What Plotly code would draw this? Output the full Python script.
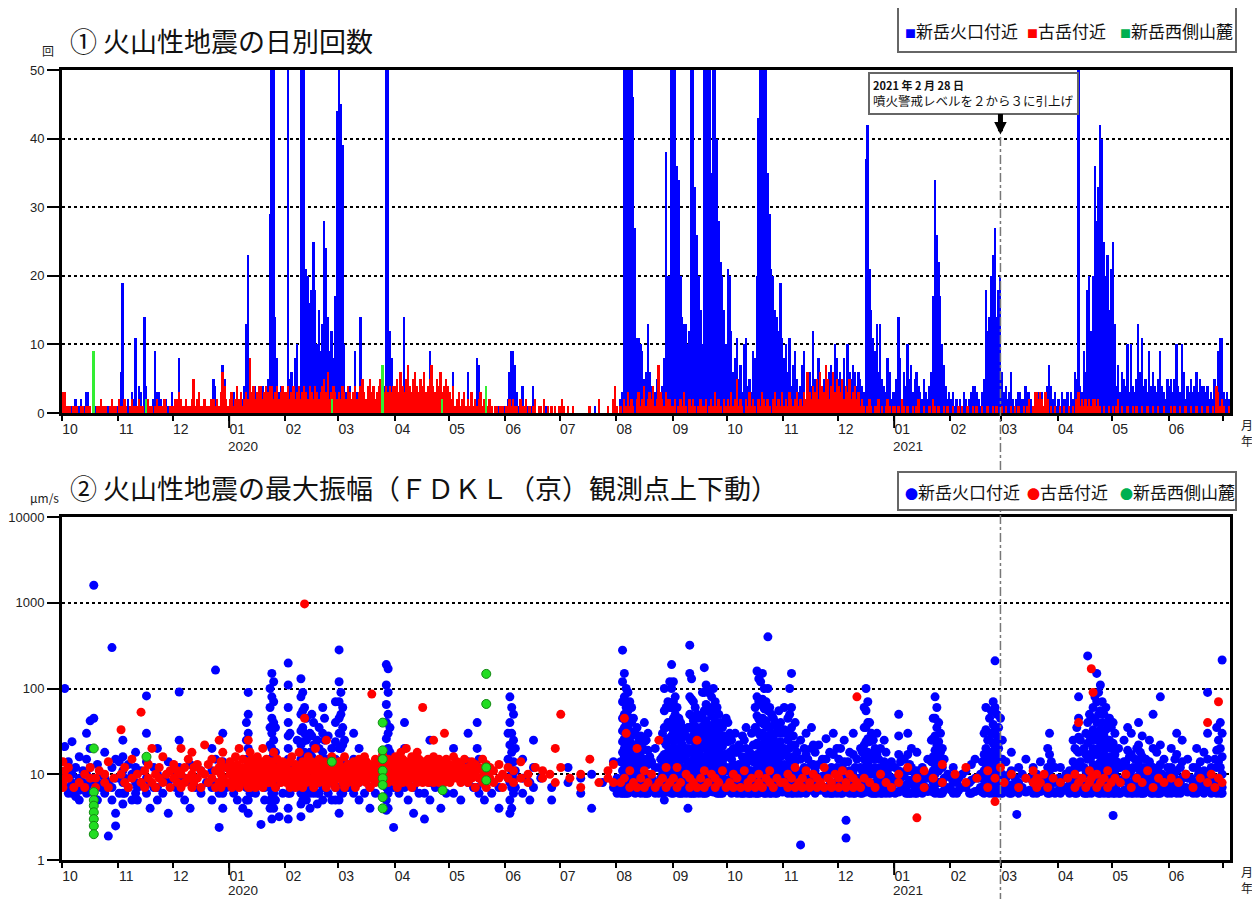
import plotly.graph_objects as go
from datetime import datetime, timedelta

# ---------------- months / ticks ----------------
MONTHS = [(2019, 10), (2019, 11), (2019, 12),
          (2020, 1), (2020, 2), (2020, 3), (2020, 4), (2020, 5), (2020, 6),
          (2020, 7), (2020, 8), (2020, 9), (2020, 10), (2020, 11), (2020, 12),
          (2021, 1), (2021, 2), (2021, 3), (2021, 4), (2021, 5), (2021, 6), (2021, 7)]
TICK_LABELS = ["10", "11", "12", "01", "02", "03", "04", "05", "06", "07", "08", "09",
               "10", "11", "12", "01", "02", "03", "04", "05", "06", ""]
YEAR_LABELS = ["2020", "2021"]

# ---------------- top: daily counts ----------------
blue_2019_10 = [0,1,1,1,0,1,1,2,1,1,2,1,1,3,3,1,0,1,1,1,1,0,1,1,0,1,1,1,0,0,1]
blue_2019_11 = [1,6,19,2,1,2,1,3,2,11,1,4,3,1,14,4,2,1,1,2,9,3,3,2,1,1,2,1,1,3]
blue_2019_12 = [1,2,1,8,2,1,1,2,1,1,1,2,1,1,1,1,1,1,1,0,1,1,5,4,1,1,2,7,5,2,1]
blue_2020_01 = [2,1,3,2,1,2,3,2,4,13,23,6,3,2,4,2,3,2,4,3,2,5,29,99,99,14,8,3,4,2,3]
blue_2020_02 = [3,99,5,6,4,8,10,3,99,99,99,21,20,16,18,25,18,10,15,9,13,28,24,14,9,12,8,17,44]
blue_2020_03 = [99,45,39,10,3,2,4,2,1,9,3,2,14,3,2,1,2,3,2,1,2,3,1,2,3,4,99,99,12,8,4]
blue_2020_04 = [3,2,1,2,1,14,3,2,1,1,2,1,0,1,2,1,1,2,1,9,1,2,1,0,1,1,2,1,1,0]
blue_2020_05 = [1,2,6,1,1,0,1,1,2,1,6,1,0,1,1,8,7,1,0,1,1,0,0,1,0,0,0,1,0,0,1]
blue_2020_06 = [1,2,6,9,9,7,3,1,2,4,1,0,1,0,1,4,1,0,0,1,0,0,1,0,0,0,0,1,0,0]
blue_2020_07 = [0,0,0,0,1,0,0,0,0,0,0,0,0,0,0,0,0,0,0,1,0,0,0,0,0,0,0,0,0,0,1]
blue_2020_08 = [1,0,2,3,99,99,99,99,99,46,27,11,11,10,9,5,6,13,6,4,2,3,5,2,1,4,8,38,20,20,60]
blue_2020_09 = [99,99,36,34,20,14,13,13,10,12,99,99,33,26,20,15,10,99,99,99,99,35,99,99,40,28,22,20,15,10]
blue_2020_10 = [21,20,12,6,8,11,5,7,3,10,11,4,5,3,9,8,20,43,99,99,99,99,35,29,21,20,15,14,12,19,11]
blue_2020_11 = [8,10,6,11,4,7,9,5,3,4,7,9,2,5,6,4,12,5,4,8,6,3,5,4,5,6,7,4,10,8]
blue_2020_12 = [5,6,4,8,4,10,6,5,7,6,4,6,5,4,3,37,42,21,15,11,9,13,6,13,5,4,3,8,6,2,3]
blue_2021_01 = [3,5,14,8,2,6,4,10,5,7,3,5,6,4,3,2,5,3,2,4,6,17,34,26,22,17,10,7,4,2,3]
blue_2021_02 = [2,3,1,2,1,2,1,3,2,1,2,3,4,4,3,2,1,3,5,18,12,14,20,23,27,14,18,20]
blue_2021_03 = [6,3,4,2,3,6,2,1,2,3,3,2,2,4,3,3,2,1,3,2,3,2,3,1,2,4,7,4,2,3,1]
blue_2021_04 = [2,1,3,2,2,3,1,3,2,6,5,99,4,3,9,6,18,20,12,20,36,28,33,42,40,25,20,23,15,21]
blue_2021_05 = [25,13,4,7,3,6,5,4,10,3,10,4,3,5,13,6,11,4,5,3,9,4,6,4,3,5,9,4,3,2,5]
blue_2021_06 = [4,5,3,5,10,4,3,10,6,2,4,3,5,3,4,6,3,5,4,4,3,4,2,3,2,5,4,9,11,11]
blue_2021_07 = [3,2,3,2]

red_2019_10 = [3,3,1,1,1,0,1,1,1,0,1,1,0,1,1,1,0,1,0,1,1,2,1,1,1,0,1,2,1,1,0]
red_2019_11 = [2,1,1,2,1,0,1,2,1,1,1,2,1,1,0,1,2,1,1,0,1,2,1,1,1,2,1,0,1,1]
red_2019_12 = [1,2,2,3,2,1,1,2,1,1,2,5,1,2,3,1,1,2,1,1,1,2,2,1,2,1,3,6,4,2,1]
red_2020_01 = [2,3,1,2,4,2,3,1,2,3,2,8,3,4,2,3,4,4,2,3,4,3,4,4,2,3,4,2,3,4,3]
red_2020_02 = [3,4,2,3,4,2,3,4,2,3,4,3,2,4,3,2,4,3,2,3,4,5,3,6,2,3,4,3,2]
red_2020_03 = [3,2,4,3,2,4,3,2,3,4,2,3,4,5,3,2,4,5,3,4,2,3,4,5,2,3,4,3,4,3,4]
red_2020_04 = [4,5,3,6,4,3,5,7,4,3,5,6,4,3,5,4,6,3,4,5,7,4,3,5,4,6,3,4,5,4]
red_2020_05 = [3,2,4,1,2,3,1,2,3,1,2,1,3,1,2,1,2,3,1,2,1,1,2,1,0,1,1,0,1,1,0]
red_2020_06 = [1,1,2,1,2,1,1,0,2,1,1,2,0,1,0,1,2,0,1,1,0,2,0,1,0,1,0,1,0,1]
red_2020_07 = [1,2,1,0,1,0,0,1,0,0,0,0,0,0,0,0,1,0,0,0,0,2,0,0,0,0,1,0,0,2,4]
red_2020_08 = [1,0,1,0,2,1,3,1,2,1,0,2,3,1,2,4,1,2,3,2,4,1,2,7,3,2,1,3,2,2,1]
red_2020_09 = [1,2,0,1,2,1,3,1,0,2,1,2,1,0,1,2,1,1,2,0,1,2,1,3,1,2,1,0,2,1]
red_2020_10 = [2,1,3,1,2,5,1,2,1,0,2,1,3,1,2,1,0,2,1,3,2,1,2,1,0,2,3,1,2,1,3]
red_2020_11 = [1,2,1,3,2,1,2,3,1,2,1,3,2,6,3,2,4,3,5,2,6,4,3,7,5,2,4,6,3,5]
red_2020_12 = [4,3,5,2,4,3,5,2,3,4,2,3,1,2,1,0,1,2,1,0,1,1,2,0,1,0,1,2,1,0,1]
red_2021_01 = [1,0,1,0,2,1,0,1,0,0,1,0,1,2,0,0,1,0,0,1,0,2,1,0,1,0,0,1,0,1,0]
red_2021_02 = [0,1,0,0,1,0,1,0,0,1,0,0,1,0,1,0,0,1,0,0,1,0,0,1,0,1,0,0]
red_2021_03 = [1,0,1,0,0,1,0,1,0,1,0,0,1,0,1,2,0,1,3,3,2,3,2,1,3,2,0,1,0,1,0]
red_2021_04 = [0,1,0,1,0,0,1,0,1,0,2,3,1,2,1,2,1,2,1,2,2,1,2,1,0,1,0,0,1,0]
red_2021_05 = [1,0,1,2,0,1,0,0,1,0,0,1,0,1,0,0,1,0,0,1,0,0,1,0,0,1,0,0,1,0,0]
red_2021_06 = [0,1,0,1,0,0,1,0,0,1,0,0,1,0,0,1,0,0,1,0,0,1,0,0,1,0,4,3,1,2]
red_2021_07 = [1,0,0,1]

green_dates = ["2019-10-18", "2019-11-16", "2020-02-26", "2020-03-25", "2020-04-27", "2020-05-21"]
green_counts = [9, 2, 2, 7, 2, 4]

BLUE_DAILY = [blue_2019_10, blue_2019_11, blue_2019_12, blue_2020_01, blue_2020_02, blue_2020_03,
              blue_2020_04, blue_2020_05, blue_2020_06, blue_2020_07, blue_2020_08, blue_2020_09,
              blue_2020_10, blue_2020_11, blue_2020_12, blue_2021_01, blue_2021_02, blue_2021_03,
              blue_2021_04, blue_2021_05, blue_2021_06, blue_2021_07]
RED_DAILY = [red_2019_10, red_2019_11, red_2019_12, red_2020_01, red_2020_02, red_2020_03,
             red_2020_04, red_2020_05, red_2020_06, red_2020_07, red_2020_08, red_2020_09,
             red_2020_10, red_2020_11, red_2020_12, red_2021_01, red_2021_02, red_2021_03,
             red_2021_04, red_2021_05, red_2021_06, red_2021_07]

# ---------------- bottom: max amplitude (day, [amplitudes]) ----------------
amp_blue_2019_10 = [(2,[100,21,9]),(4,[14,7,6]),(6,[24,10,8,6]),(8,[12,7,5.5]),(10,[16,9,6.5,5]),
    (12,[11,8]),(14,[30,15,10,7,6]),(16,[42,20,12,8]),(18,[1600,45,9,6]),(20,[13,8,5]),(22,[10,7]),
    (24,[18,9,6]),(26,[8,1.9]),(28,[300,12,7,5]),(30,[15,9,2.5,3.5])]
amp_blue_2019_11 = [(1,[14,9,6]),(3,[25,16,11,8,6,4.5]),(4,[9,6]),(6,[13,7]),(8,[10,5]),(10,[18,12,8,6]),
    (11,[7,5]),(13,[11,8]),(16,[82,30,14,9,6]),(18,[8,4]),(20,[12,7]),(22,[20,10,7,5]),(25,[9,6]),
    (28,[14,8,3.5])]
amp_blue_2019_12 = [(2,[10,7]),(4,[91,25,12,8,6]),(7,[9,5]),(10,[13,8,4]),(13,[7]),(16,[11,6]),(19,[8]),
    (22,[20,11,7,5]),(24,[164,15,8]),(26,[2.4,6]),(28,[30,14,9,6,4]),(30,[12,7])]
amp_blue_2020_01 = [(3,[9,6]),(5,[11,5]),(8,[8,4]),(10,[40,25,15,10,7,5]),(11,[90,50,30,20,14,10,7,5,3.5]),
    (12,[12,8,6]),(15,[10,6]),(18,[9,2.6]),(20,[7,5]),(22,[14,9]),(23,[100,60,35,22,15,10,7,5,4]),
    (24,[150,80,45,30,20,14,10,8,6,4.5,3]),(25,[120,70,40,25,17,12,9,6,4]),(26,[35,18,11,7,5]),
    (28,[13,8,3.2]),(30,[10,6])]
amp_blue_2020_02 = [(2,[198,110,60,40,28,20,15,11,8,6,4,3]),(3,[30,15,9,6]),(5,[12,7]),(7,[25,12,8]),
    (9,[130,80,50,32,22,15,11,8,6,4.5,3.2]),(10,[90,55,35,24,16,12,9,7,5]),(11,[60,30,18,12,8,6]),
    (12,[45,25,15,10,7,5]),(14,[30,18,11,8,6,4]),(15,[50,28,16,10,7]),(16,[40,22,14,9,6]),
    (18,[25,14,9,6,4.5]),(19,[35,20,12,8,6]),(21,[60,30,18,11,7,5]),(22,[45,25,15,10,7]),
    (24,[28,15,9,6]),(26,[20,12,8,5]),(28,[70,40,24,15,10,7,5])]
amp_blue_2020_03 = [(1,[282,120,70,45,30,20,14,10,7,5,3.5]),(2,[90,50,30,20,13,9,6]),(3,[60,35,22,14,9,6]),
    (4,[25,14,8]),(6,[12,7]),(9,[30,15,9,6]),(12,[20,12,8,5]),(15,[9,6]),(18,[12,7,4]),(21,[10,6]),
    (24,[15,8]),(27,[190,110,65,40,26,17,12,9,7,5,3.8]),(28,[170,90,50,30,20,13,9,6,4]),
    (29,[35,18,10,7]),(31,[12,7,2.4])]
amp_blue_2020_04 = [(3,[10,6]),(6,[40,20,11,7]),(8,[8,5]),(11,[12,7,3.5]),(14,[9,6]),(17,[6,3]),
    (20,[25,13,8,5]),(23,[10,7]),(26,[8,4]),(29,[11,6])]
amp_blue_2020_05 = [(3,[20,10,6]),(7,[9,5]),(11,[30,14,8]),(14,[7]),(16,[40,20,12,7]),(17,[15,9,6]),
    (20,[8,5]),(24,[11,6]),(28,[7,4])]
amp_blue_2020_06 = [(2,[30,15,9]),(3,[80,40,22,13,8,5,3.5]),(4,[60,30,18,11,7,4]),(5,[50,25,14,9,6]),
    (6,[20,11,7]),(10,[15,9,6]),(14,[8,5]),(16,[25,12,7]),(20,[9]),(26,[7,5])]
amp_blue_2020_07 = [(5,[12,8]),(12,[9,6]),(18,[10,4]),(24,[8]),(30,[14,7])]
amp_blue_2020_08 = [(1,[9,6]),(2,[7]),(3,[14,8,6]),(4,[280,120,70,45,32,24,18,14,11,9,7.5,6.5,6]),
    (5,[150,80,50,35,26,20,16,13,10,8.5,7,6]),(6,[100,60,40,30,22,17,13,11,9,7.5,6.5,6]),
    (7,[90,55,38,28,21,16,12,10,8,7,6]),(8,[70,45,32,24,18,14,11,9,7.5,6.2]),
    (9,[60,40,28,20,15,12,9.5,8,6.5]),(10,[45,30,22,16,12,9,7.5,6.2]),(11,[30,20,14,10,7.5,6]),
    (12,[35,22,15,11,8,6.5]),(13,[25,16,11,8,6.2]),(14,[28,18,12,9,7,6]),(15,[20,13,9,6.5]),
    (16,[40,24,15,10,7.5,6]),(17,[25,15,10,7,6]),(18,[30,19,13,9,7,6]),(19,[16,10,7]),(20,[14,9,6.5]),
    (22,[20,12,8,6]),(24,[12,8,6]),(25,[15,9,6.5]),(26,[30,16,10,7,6]),
    (27,[100,55,35,24,17,13,10,8,6.5,5]),(28,[60,35,22,15,11,8.5,6.5]),(29,[70,40,26,18,13,10,8,6.2]),
    (30,[120,60,38,26,18,13,10,8,6.5]),(31,[190,100,60,40,28,20,15,12,9.5,8,6.8,6])]
amp_blue_2020_09 = [(1,[120,70,45,32,24,18,14,11,9,7.5,6.5,6]),(2,[80,50,34,25,19,14,11,9,7.5,6.2]),
    (3,[60,38,27,20,15,12,9,7.5,6.2]),(4,[45,30,20,14,10,7.5,6]),(5,[40,25,17,12,9,7,6]),
    (6,[35,22,15,10,7.5,6]),(7,[30,18,12,8.5,6.5]),(8,[28,17,11,8,6]),(9,[35,20,13,9,6.5,4]),
    (10,[320,150,80,50,35,25,18,14,11,9,7.5,6.5,6]),(11,[130,75,48,34,25,19,14,11,9,7.5,6.5,6]),
    (12,[70,42,28,20,15,11,8.5,7,6]),(13,[60,36,24,17,12,9,7,6]),(14,[50,30,20,14,10,8,6.5]),
    (15,[45,28,18,13,9,7,6]),(16,[35,22,15,11,8,6.5]),(17,[90,50,32,22,16,12,9,7,6]),
    (18,[175,90,55,38,27,20,15,12,9.5,8,6.8,6]),(19,[110,65,42,30,22,16,12.5,10,8,6.8,6]),
    (20,[90,55,36,26,19,14,11,9,7.5,6.2]),(21,[60,36,24,17,13,10,8,6.5]),(22,[80,48,32,23,17,13,10,8,6.5]),
    (23,[100,58,38,27,20,15,11,9,7.5,6.2]),(24,[70,42,28,20,14,10,8,6.5]),(25,[60,36,24,17,12,9,7,6]),
    (26,[50,30,20,14,10,7.5,6]),(27,[40,25,17,12,9,7,6]),(28,[35,21,14,10,7.5,6]),(29,[28,17,12,8.5,6.5]),
    (30,[45,26,17,12,8.5,6.5])]
amp_blue_2020_10 = [(1,[40,24,16,11,8,6.5]),(2,[30,18,12,8.5,6.5]),(3,[25,15,10,7.5,6]),(4,[20,13,9,6.5]),
    (5,[30,18,12,8.5,6.5]),(6,[18,11,7.5,6]),(7,[22,13,9,6.5]),(8,[20,12,8,6]),(9,[28,16,10,7,6]),
    (10,[25,15,10,7,6]),(11,[35,20,13,9,6.5]),(12,[16,10,7,6]),(13,[18,11,7.5,6]),(14,[30,17,11,7.5,6]),
    (15,[22,14,9,6.5]),(16,[60,35,22,15,10,7.5,6]),(17,[160,80,48,32,23,17,13,10,8,6.8,6]),
    (18,[130,70,44,30,22,16,12,9.5,7.8,6.5,6]),(19,[120,65,40,28,20,15,11,9,7.5,6.2]),
    (20,[150,75,45,30,22,16,12,9.5,8,6.5]),(21,[100,58,38,26,19,14,11,8.5,7,6]),
    (22,[70,42,28,20,15,11,8.5,7,6]),(23,[400,100,55,35,25,18,13,10,8,6.5]),(24,[60,36,24,17,12,9,7,6]),
    (25,[50,30,20,14,10,7.5,6]),(26,[45,28,18,13,9.5,7.5,6.2]),(27,[40,24,16,11,8,6]),
    (28,[35,21,14,10,7.5,6]),(29,[55,30,19,13,9,6.5]),(30,[40,24,16,11,8,6.3]),(31,[30,18,12,8.5,6.2])]
amp_blue_2020_11 = [(1,[60,33,20,13,9,6.5]),(2,[30,18,12,8.5,6.5]),(3,[45,25,16,11,7.5,6]),
    (4,[100,50,30,20,13,9,6.5]),(5,[150,60,35,22,14,10,7,6]),(6,[28,16,10.5,7.5,6]),(7,[40,22,14,9.5,6.5]),
    (8,[18,11,7.5,6]),(10,[25,15,10,7,6,1.5]),(12,[20,12,8,6.2]),(13,[30,17,11,7.5,6]),(14,[15,9,6.5]),
    (16,[35,20,13,9,6.5]),(17,[22,13,9,6.5]),(18,[18,11,7.5,6]),(20,[22,13,9,6.5]),(22,[15,9.5,6.5]),
    (24,[26,15,10,7,6]),(26,[18,11,7.5,6]),(27,[12,8,6]),(28,[30,17,11,7.5,6]),(30,[20,12,8,6])]
amp_blue_2020_12 = [(1,[15,9,6.5]),(2,[20,12,8,6]),(3,[12,8,6]),(4,[25,14,9,6.5]),(5,[2.9,1.8]),
    (6,[14,9,6.2]),(7,[18,11,7.5,6]),(8,[10,7]),(9,[30,17,11,7.5,6]),(10,[12,8,6]),(11,[15,9,6.5]),
    (12,[9,6.5]),(13,[20,12,8,6]),(14,[18,11,7,6]),(15,[60,35,22,15,11,8,6.5]),
    (16,[100,55,35,24,17,12.5,9.5,7.5,6.2]),(17,[70,40,26,18,13,10,8,6.5]),(18,[40,24,16,11,8,6.2]),
    (19,[30,17,11,7.5,6]),(20,[25,15,10,7,6]),(21,[20,12,8,6]),(22,[30,17,11,8,6]),(23,[15,9,6.5]),
    (24,[20,12,8,6]),(25,[12,8,6]),(26,[25,14,9,6.5]),(27,[18,11,7.5,6]),(28,[10,7]),(29,[12,8,6]),
    (30,[14,9,6.5]),(31,[9,6.5])]
amp_blue_2021_01 = [(1,[12,8,6]),(3,[50,28,17,11,8,6.2]),(4,[14,9,6.5]),(6,[15,9.5,6.5]),(7,[11,7.5,6]),
    (8,[30,17,11,7.5,6]),(9,[13,8.5,6]),(10,[20,12,8,6]),(12,[10,7,6]),(13,[18,11,7.5,6]),(15,[9,6.5]),
    (16,[12,8,6]),(18,[10,7]),(19,[15,9,6.3]),(21,[25,14,9,6.5]),(22,[45,26,16,11,8,6.2]),
    (23,[80,45,28,19,13,10,7.5,6]),(24,[60,35,22,15,11,8,6.2]),(25,[40,24,16,11,8,6]),
    (26,[30,18,12,8,6]),(27,[20,12,8,6]),(28,[15,9,6.5]),(30,[10,7])]
amp_blue_2021_02 = [(1,[9,6.5]),(2,[12,8,6]),(4,[8,6]),(5,[9,6.5]),(7,[10,7]),(9,[11,7]),(11,[8,6]),
    (12,[13,8.5,6]),(14,[15,9,6.3]),(16,[9,6.5]),(17,[10,7]),(18,[14,9,6.2]),(19,[30,17,11,7.5,6]),
    (20,[60,33,20,13,9,6.5]),(21,[25,14,9,6.5]),(22,[45,25,15,10,7,6]),(23,[55,30,18,12,8.5,6.2]),
    (24,[70,38,23,15,10,7,6]),(25,[210,60,34,21,14,10,7,6]),(26,[50,28,17,11,8,6]),(27,[35,20,13,9,6.5]),
    (28,[45,25,15,10,7,6])]
amp_blue_2021_03 = [(1,[25,15,10,7,6]),(2,[14,9,6.5]),(3,[14,9,6.5]),(5,[10,7,6]),(6,[18,11,7.5,6]),
    (8,[9,6.5]),(9,[3.4,8]),(10,[12,8,6]),(12,[10,7]),(14,[15,9,6.2]),(16,[9,6.5]),(18,[12,8,6]),
    (20,[10,7,6]),(22,[14,9,6.3]),(24,[9,6.5]),(25,[10,7]),(26,[20,12,8,6]),(27,[30,17,11,7.5,6]),
    (28,[14,9,6.5]),(30,[12,8,6])]
amp_blue_2021_04 = [(1,[9,6.5]),(2,[12,8,6]),(4,[9,6.5]),(5,[10,7]),(7,[11,7.5,6]),(9,[25,14,9,6.5]),
    (10,[20,12,8,6]),(11,[35,19,12,8,6]),(12,[80,45,27,18,12,8.5,6.5]),(13,[25,14,9,6.5]),
    (15,[20,12,8,6]),(16,[30,17,11,7.5,6]),(17,[240,40,23,15,10,7,6]),(18,[50,28,17,11,8,6.2]),
    (19,[45,25,16,11,7.5,6]),(20,[60,33,20,13,9,6.5]),(21,[80,44,27,18,12,8.5,6.5]),
    (22,[150,70,40,25,17,12,8.5,6.2]),(23,[90,50,30,20,13,9.5,7,6]),(24,[110,55,33,21,14,10,7.5,6]),
    (25,[70,40,25,16,11,8,6.2]),(26,[50,28,17,11,8,6]),(27,[60,33,20,13,9,6.5]),(28,[40,23,15,10,7,6]),
    (29,[45,25,16,11,7.5,6]),(30,[35,20,13,9,6.5])]
amp_blue_2021_05 = [(1,[40,23,15,10,7,6,3.3]),(2,[30,17,11,7.5,6]),(3,[14,9,6.5]),(4,[20,12,8,6]),
    (5,[12,8,6]),(7,[25,14,9,6.5]),(8,[14,9,6.2]),(9,[35,19,12,8,6]),(10,[16,10,7]),(11,[30,17,11,7.5,6]),
    (12,[12,8,6]),(13,[15,9,6.5]),(14,[20,12,8,6]),(15,[40,22,14,9.5,6.5]),(16,[18,11,7.5,6]),
    (17,[28,16,10.5,7,6]),(18,[12,8,6]),(19,[15,9,6.3]),(20,[10,7]),(21,[25,14,9,6.5]),(22,[12,8,6]),
    (23,[50,20,12,8,6]),(24,[10,7]),(25,[18,11,7.5,6]),(26,[12,8,6]),(27,[80,22,13,8.5,6]),(28,[10,7]),
    (29,[15,9,6.5]),(31,[12,8,6])]
amp_blue_2021_06 = [(1,[10,7]),(2,[20,12,8,6]),(3,[9,6.5]),(4,[15,9,6.5]),(5,[30,17,11,7.5,6]),(7,[12,8,6]),
    (8,[25,14,9,6.5]),(10,[10,7]),(11,[15,9,6.2]),(13,[9,6.5]),(14,[12,8,6]),(16,[20,12,8,6]),(17,[10,7]),
    (18,[14,9,6.3]),(20,[18,11,7.5,6]),(21,[10,7]),(22,[90,30,15,9,6.5]),(24,[12,8,6]),(25,[9,6.5]),
    (26,[15,9,6.5]),(27,[35,19,12,8,6]),(28,[25,14,9,6.5]),(29,[40,20,12,8,6]),(30,[215,30,16,10,7,6])]

amp_red_2019_10 = [(1,[14,8,7]),(2,[11,9]),(4,[9,12]),(7,[7]),(10,[8]),(13,[10,7]),(16,[12,9]),(19,[7,9]),
    (21,[11]),(24,[8,10]),(26,[14,7]),(29,[9])]
amp_red_2019_11 = [(2,[33,10]),(4,[8,12]),(6,[7]),(8,[15,9]),(11,[10]),(13,[53,8]),(15,[11,7]),(17,[9,13]),
    (19,[20,8]),(21,[10,7]),(23,[12,9]),(25,[16,8]),(27,[10]),(29,[7,11])]
amp_red_2019_12 = [(1,[13,9]),(3,[8,11]),(5,[20,10,7]),(7,[12,8]),(9,[9,15]),(11,[18,10,7]),(12,[12,8]),
    (14,[9,13]),(16,[11,7]),(18,[22,10]),(20,[8,13]),(22,[15,9]),(24,[11,7]),(26,[25,12,8]),(27,[10,14,7]),
    (28,[18,9]),(30,[12,8])]
amp_red_2020_01 = [(1,[10,14,8]),(2,[12,7]),(4,[9,16,11]),(5,[8,13]),(6,[20,10,7]),(8,[12,9,15]),(9,[8,11]),
    (11,[25,14,10,8,7]),(12,[18,12,9,7]),(13,[11,8,15]),(15,[9,13,7]),(16,[10,16,8]),(17,[12,9]),
    (18,[14,8,11]),(19,[20,10,7]),(21,[12,9,15]),(22,[8,11,13]),(24,[10,14,8]),(25,[12,9,18]),(26,[7,11]),
    (27,[15,9,12]),(29,[10,8,13]),(30,[11,9,14])]
amp_red_2020_02 = [(1,[12,9,8]),(3,[14,10,7]),(4,[11,8,16]),(6,[9,13,7]),(7,[12,10]),(8,[18,9,8]),
    (10,[14,11,7]),(11,[970,45,12,9]),(12,[10,13,8]),(13,[16,9,11]),(15,[12,8,14]),(16,[9,11,7]),
    (17,[13,10,20]),(19,[11,8,15]),(20,[10,12,9]),(22,[14,8,11]),(23,[25,12,9,7]),(24,[10,13,8]),
    (26,[12,9,16]),(27,[8,11,14]),(28,[13,10,7])]
amp_red_2020_03 = [(1,[11,9,14]),(3,[12,8,10]),(4,[16,9,7]),(6,[10,13,8]),(7,[12,9,11]),(9,[14,10,8]),
    (10,[9,12,7]),(12,[11,15,8]),(13,[10,13]),(15,[12,9,16]),(16,[8,11,14]),(18,[13,10,7]),(19,[86,12,9]),
    (21,[11,8,15]),(22,[10,13,9]),(24,[14,9,12]),(25,[11,8,17]),(27,[9,13,10]),(28,[12,8,15]),(30,[10,14,9])]
amp_red_2020_04 = [(1,[12,9,16,8]),(2,[11,14,7]),(4,[10,13,9,18]),(5,[12,8,15]),(7,[9,14,11,20]),(8,[13,10,8]),
    (10,[11,16,9,7]),(11,[14,10,12]),(13,[9,13,8,18]),(14,[12,10,15]),(16,[11,8,14,60]),(17,[13,9,11]),
    (19,[10,15,8,12]),(20,[14,11,9]),(22,[12,8,16,25]),(23,[10,13,9]),(25,[15,11,8,12]),(26,[9,14,10]),
    (28,[12,8,13,30]),(29,[11,9,15])]
amp_red_2020_05 = [(1,[10,13,8]),(3,[12,9,16]),(5,[9,11,14]),(7,[13,8,10]),(9,[11,15,9]),(11,[8,12,10]),
    (13,[14,9,11]),(15,[10,7,13]),(17,[12,9]),(19,[8,11,15]),(21,[10,13,7]),(23,[9,12]),(25,[11,8]),
    (28,[13,9]),(30,[10,7])]
amp_red_2020_06 = [(2,[9,12]),(5,[11,8]),(9,[14,9]),(13,[8,10]),(17,[12]),(21,[9,11]),(25,[10]),(28,[20,8])]
amp_red_2020_07 = [(1,[50,12]),(6,[9]),(12,[7,10]),(17,[15]),(22,[8]),(27,[11,9]),(30,[13,8])]
amp_red_2020_08 = [(3,[8]),(5,[45,9]),(6,[30]),(8,[7,11]),(10,[8]),(12,[20,7]),(14,[9]),(16,[11,7]),(18,[8]),
    (20,[10]),(22,[7]),(24,[25,8]),(26,[9]),(28,[12,7]),(30,[8])]
amp_red_2020_09 = [(1,[9]),(3,[7,12]),(5,[8]),(8,[10]),(10,[7,9]),(12,[8]),(14,[25,7]),(16,[9]),(18,[7,11]),
    (20,[8]),(22,[10]),(24,[7,9]),(26,[8]),(28,[11]),(30,[7])]
amp_red_2020_10 = [(2,[8]),(4,[10,7]),(6,[9]),(8,[7]),(10,[11]),(12,[8,7]),(14,[9]),(16,[7]),(18,[10,8]),
    (20,[7]),(22,[9]),(24,[8,11]),(26,[7]),(28,[9]),(30,[8])]
amp_red_2020_11 = [(1,[8]),(3,[10,7]),(5,[9]),(7,[7,12]),(9,[8]),(11,[9,7]),(13,[11]),(15,[8,7]),(17,[10]),
    (19,[7,9]),(21,[8]),(23,[12,7]),(25,[9]),(27,[8,7]),(29,[10])]
amp_red_2020_12 = [(1,[9,7]),(3,[11]),(5,[8,7]),(7,[10]),(9,[7,9]),(11,[80,8]),(13,[7]),(15,[9]),(18,[8]),
    (21,[7]),(24,[10]),(27,[8]),(30,[7])]
amp_red_2021_01 = [(3,[10,8]),(8,[12]),(13,[3.1,9]),(17,[11,7]),(22,[9]),(27,[13,8])]
amp_red_2021_02 = [(3,[10]),(9,[8,12]),(15,[9]),(21,[11,7]),(25,[4.8,9]),(28,[12])]
amp_red_2021_03 = [(2,[8]),(6,[10]),(10,[7]),(14,[9]),(18,[8,11]),(20,[7,9]),(22,[8]),(24,[10]),(26,[7]),(29,[9])]
amp_red_2021_04 = [(2,[8]),(6,[9]),(10,[10,7]),(12,[40,8]),(14,[9]),(16,[7]),(18,[11,8]),(19,[170,9]),(20,[90]),
    (22,[10,7]),(24,[8]),(26,[9]),(28,[11,7]),(30,[8])]
amp_red_2021_05 = [(2,[9]),(5,[8]),(8,[10]),(11,[7]),(14,[9]),(17,[8]),(20,[11]),(23,[7]),(26,[9]),(29,[8])]
amp_red_2021_06 = [(2,[9]),(6,[8]),(10,[10]),(14,[7]),(18,[9]),(22,[40,8]),(24,[10]),(26,[7]),(28,[70,9]),(30,[8])]

amp_green = [("2019-10-18", [20, 6.2, 5, 4.3, 3.6, 3, 2.5, 2]),
             ("2019-11-16", [16]),
             ("2020-02-26", [14]),
             ("2020-03-25", [40, 19, 15, 11, 9, 7.5, 5.4, 4]),
             ("2020-04-27", [6.5]),
             ("2020-05-21", [148, 66, 12, 8.5])]

AMP_BLUE = [amp_blue_2019_10, amp_blue_2019_11, amp_blue_2019_12, amp_blue_2020_01, amp_blue_2020_02,
            amp_blue_2020_03, amp_blue_2020_04, amp_blue_2020_05, amp_blue_2020_06, amp_blue_2020_07,
            amp_blue_2020_08, amp_blue_2020_09, amp_blue_2020_10, amp_blue_2020_11, amp_blue_2020_12,
            amp_blue_2021_01, amp_blue_2021_02, amp_blue_2021_03, amp_blue_2021_04, amp_blue_2021_05,
            amp_blue_2021_06]
AMP_RED = [amp_red_2019_10, amp_red_2019_11, amp_red_2019_12, amp_red_2020_01, amp_red_2020_02,
           amp_red_2020_03, amp_red_2020_04, amp_red_2020_05, amp_red_2020_06, amp_red_2020_07,
           amp_red_2020_08, amp_red_2020_09, amp_red_2020_10, amp_red_2020_11, amp_red_2020_12,
           amp_red_2021_01, amp_red_2021_02, amp_red_2021_03, amp_red_2021_04, amp_red_2021_05,
           amp_red_2021_06]

ALERT_DATE = datetime(2021, 2, 28, 12)


# ---------------- helpers ----------------
def expand_daily(lists):
    xs, ys = [], []
    for (yy, mm), vals in zip(MONTHS, lists):
        for i, v in enumerate(vals):
            xs.append(datetime(yy, mm, 1, 12) + timedelta(days=i))
            ys.append(v)
    return xs, ys


def expand_amp(lists):
    xs, ys = [], []
    for (yy, mm), cols in zip(MONTHS, lists):
        for day, amps in cols:
            for a in amps:
                xs.append(datetime(yy, mm, day, 12))
                ys.append(a)
    return xs, ys


BLUE = "#0000ff"
RED = "#ff0000"
GREEN_BAR = "#33ee33"
GREEN_PT = "#22dd22"
GREEN_LEG = "#00b050"
JP = "Noto Sans CJK JP"
NUM = "Liberation Sans, Arial, sans-serif"
DAY_MS = 86400000

fig = go.Figure()

bx, by = expand_daily(BLUE_DAILY)
rx, ry = expand_daily(RED_DAILY)
gx = [datetime.fromisoformat(d) + timedelta(hours=12) for d in green_dates]

fig.add_trace(go.Bar(x=bx, y=by, width=DAY_MS, marker=dict(color=BLUE, line=dict(width=0)),
                     xaxis="x", yaxis="y", hoverinfo="skip", name="新岳火口付近"))
fig.add_trace(go.Bar(x=rx, y=ry, width=DAY_MS, marker=dict(color=RED, line=dict(width=0)),
                     xaxis="x", yaxis="y", hoverinfo="skip", name="古岳付近"))
fig.add_trace(go.Bar(x=gx, y=green_counts, width=DAY_MS * 0.9, marker=dict(color=GREEN_BAR, line=dict(width=0)),
                     xaxis="x", yaxis="y", hoverinfo="skip", name="新岳西側山麓"))

sbx, sby = expand_amp(AMP_BLUE)
srx, sry = expand_amp(AMP_RED)
sgx, sgy = [], []
for d, amps in amp_green:
    for a in amps:
        sgx.append(datetime.fromisoformat(d) + timedelta(hours=12))
        sgy.append(a)

fig.add_trace(go.Scatter(x=sbx, y=sby, mode="markers", marker=dict(color=BLUE, size=9, line=dict(width=0)),
                         xaxis="x2", yaxis="y2", hoverinfo="skip", name="新岳火口付近"))
fig.add_trace(go.Scatter(x=srx, y=sry, mode="markers", marker=dict(color=RED, size=9, line=dict(width=0)),
                         xaxis="x2", yaxis="y2", hoverinfo="skip", name="古岳付近"))
fig.add_trace(go.Scatter(x=sgx, y=sgy, mode="markers",
                         marker=dict(color=GREEN_PT, size=9, line=dict(width=1, color="#118811")),
                         xaxis="x2", yaxis="y2", hoverinfo="skip", name="新岳西側山麓"))

# ---------------- layout (page body has an 8px margin) ----------------
OFF = 8
W, H = 1260 - OFF, 899 - OFF


def px_x(p):
    return (p - OFF) / W


def px_y(p):
    return 1 - (p - OFF) / H


XD = [px_x(62), px_x(1230)]
YD_TOP = [px_y(413), px_y(70)]
YD_BOT = [px_y(860), px_y(517)]

tickvals = [datetime(y, m, 1) for (y, m) in MONTHS]
xrange_ = [datetime(2019, 10, 1), datetime(2021, 7, 4, 20)]

xcommon = dict(type="date", range=xrange_, domain=XD, tickmode="array", tickvals=tickvals,
               ticktext=TICK_LABELS, ticks="outside", ticklen=5, tickwidth=2, tickcolor="black",
               showline=True, linewidth=3, linecolor="black", mirror=True, showgrid=False,
               zeroline=False, tickfont=dict(family=NUM, size=14, color="#222"),
               ticklabelshift=8, ticklabelstandoff=-4, automargin=False, fixedrange=True)
ycommon = dict(ticks="outside", ticklen=12, tickwidth=2, tickcolor="black",
               showline=True, linewidth=3, linecolor="black", mirror=True,
               showgrid=True, gridcolor="black", griddash="dot", gridwidth=1.5,
               zeroline=False, tickfont=dict(family=NUM, size=13, color="#222"),
               automargin=False, fixedrange=True)

fig.update_layout(
    width=W, height=H, margin=dict(l=0, r=0, t=0, b=0),
    template="none", paper_bgcolor="white", plot_bgcolor="white",
    barmode="overlay", bargap=0, showlegend=False,
    xaxis=dict(anchor="y", **xcommon),
    yaxis=dict(anchor="x", domain=YD_TOP, range=[0, 50], tickmode="array",
               tickvals=[0, 10, 20, 30, 40, 50], **ycommon),
    xaxis2=dict(anchor="y2", matches="x", **xcommon),
    yaxis2=dict(anchor="x2", domain=YD_BOT, type="log", range=[0, 4], tickmode="array",
                tickvals=[1, 10, 100, 1000, 10000], ticktext=["1", "10", "100", "1000", "10000"], **ycommon),
)

ann = []
shapes = []


def label(text, x, y, size, family=JP, xanchor="center", xref="paper", xshift=0, color="#222"):
    return dict(text=text, x=x, y=y, xref=xref, yref="paper", xanchor=xanchor, yanchor="middle",
                xshift=xshift, showarrow=False, font=dict(family=family, size=size, color=color))


# titles
ann.append(label("① 火山性地震の日別回数", px_x(68), px_y(40), 27, xanchor="left", color="#111"))
ann.append(label("② 火山性地震の最大振幅（ＦＤＫＬ（京）観測点上下動）", px_x(68), px_y(487), 27,
                 xanchor="left", color="#111"))
ann.append(label("回", px_x(56), px_y(50), 12, xanchor="right"))
ann.append(label("μm/s", px_x(61), px_y(497), 12, xanchor="right"))

# month/year marks at right end, year labels and year ticks
for ax_, ym, yy_, ybase in (("x", 432, 446, YD_TOP[0]), ("x2", 879, 890, YD_BOT[0])):
    ann.append(label("月<br>年", px_x(1247), px_y(ym), 12))
    for yl in YEAR_LABELS:
        ann.append(label(yl, datetime(int(yl), 1, 1), px_y(yy_), 13.5, family=NUM, xref=ax_, xshift=14))
        shapes.append(dict(type="line", xref=ax_, yref="paper", x0=datetime(int(yl), 1, 1),
                           x1=datetime(int(yl), 1, 1), y0=ybase, y1=ybase - 15 / H,
                           line=dict(color="black", width=2)))

# alert vertical dash-dot line
shapes.append(dict(type="line", xref="x", yref="paper", x0=ALERT_DATE, x1=ALERT_DATE,
                   y0=px_y(137), y1=0, line=dict(color="#777", width=1.5, dash="dashdot"), layer="above"))

# legend boxes
for (y0, y1) in ((5, 52), (472, 510)):
    shapes.append(dict(type="rect", xref="paper", yref="paper", x0=px_x(898), x1=px_x(1236),
                       y0=px_y(y1), y1=px_y(y0), line=dict(color="#666", width=2), fillcolor="white",
                       layer="above"))

leg_items = [("新岳火口付近", BLUE, 903), ("古岳付近", RED, 1025), ("新岳西側山麓", GREEN_LEG, 1118)]
for name, col, xs in leg_items:
    ann.append(label(f'<span style="color:{col};font-size:11px">■</span>{name}', px_x(xs), px_y(31), 17,
                     xanchor="left", color="#111"))
    ann.append(label(f'<span style="color:{col};font-size:13px">●</span>{name}', px_x(xs), px_y(491), 17,
                     xanchor="left", color="#111"))

# alert note box and arrow
ann.append(dict(text='<b><span style="font-size:11px">2021 年 2 月 28 日</span></b><br>噴火警戒レベルを２から３に引上げ',
                x=px_x(868), y=px_y(72), xref="paper", yref="paper", xanchor="left", yanchor="top",
                align="left", showarrow=False, bgcolor="white", bordercolor="#666", borderwidth=2, borderpad=3,
                font=dict(family=JP, size=12.5, color="#111")))
ann.append(dict(text="", x=ALERT_DATE, y=40.6, xref="x", yref="y", showarrow=True, ax=0, ay=-22,
                arrowhead=2, arrowsize=0.5, arrowwidth=5, arrowcolor="black"))

fig.update_layout(annotations=ann, shapes=shapes)
fig.write_html("out.html")
